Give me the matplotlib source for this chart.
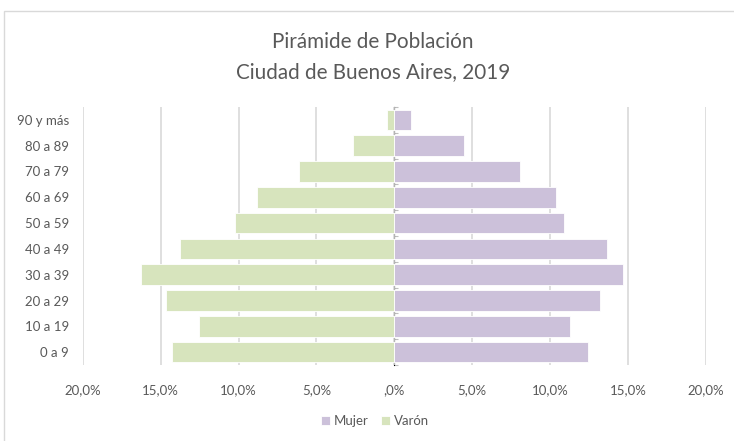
import matplotlib
matplotlib.use("Agg")
import matplotlib.pyplot as plt
from matplotlib.patches import Rectangle
from matplotlib.ticker import FuncFormatter
import numpy as np

plt.rcParams["font.family"] = ["Lato", "DejaVu Sans"]

# Age groups, bottom to top
age_groups = ["0 a 9", "10 a 19", "20 a 29", "30 a 39", "40 a 49",
              "50 a 59", "60 a 69", "70 a 79", "80 a 89", "90 y más"]
# share of total population (%)
varon = [14.27, 12.52, 14.67, 16.28, 13.77, 10.24, 8.79, 6.12, 2.65, 0.49]
mujer = [12.41, 11.26, 13.22, 14.68, 13.63, 10.91, 10.36, 8.05, 4.45, 1.05]
x_ticks = [-20, -15, -10, -5, 0, 5, 10, 15, 20]

GREEN = "#D7E4BD"
PURPLE = "#CCC1DA"
GRID = "#D9D9D9"
TEXT = "#595959"

fig = plt.figure(figsize=(7.34, 4.41), dpi=100)
fig.patches.append(Rectangle((4 / 734, -0.1), 1.0, 1 - 11 / 441 + 0.1,
                             transform=fig.transFigure, fill=False,
                             edgecolor=GRID, lw=1.0))

ax = fig.add_axes([0.1127, 0.1723, 0.8492, 0.5851])
y = np.arange(len(age_groups))
ax.barh(y, mujer, height=0.8, color=PURPLE, edgecolor="white", lw=0.6,
        label="Mujer", zorder=2)
ax.barh(y, [-v for v in varon], height=0.8, color=GREEN, edgecolor="white",
        lw=0.6, label="Varón", zorder=2)

ax.set_xlim(-20, 20)
ax.set_ylim(-0.5, len(age_groups) - 0.5)
ax.set_xticks(x_ticks)


def pct(v, pos):
    if v == 0:
        return ",0%"
    return f"{abs(v):.1f}%".replace(".", ",")


ax.xaxis.set_major_formatter(FuncFormatter(pct))
ax.tick_params(axis="x", length=0, pad=14, labelsize=9.5, labelcolor=TEXT)
ax.set_yticks(y)
ax.set_yticklabels(age_groups)
ax.tick_params(axis="y", length=0, pad=10, labelsize=9.5, labelcolor=TEXT)
for s in ax.spines.values():
    s.set_visible(False)
ax.grid(axis="x", color=GRID, lw=1.2, zorder=0)
ax.set_axisbelow(True)

# central vertical axis with boundary ticks
center = ax.secondary_yaxis(0.5)
center.set_yticks(np.arange(-0.5, len(age_groups), 1.0))
center.set_yticklabels([])
center.tick_params(axis="y", direction="out", length=3, color="#BFBFBF")
center.spines["left"].set_color("#BFBFBF")

fig.text(0.508, 1 - 42 / 441, "Pirámide de Población", ha="center",
         va="center", fontsize=14.9, color=TEXT)
fig.text(0.508, 1 - 72 / 441, "Ciudad de Buenos Aires, 2019", ha="center",
         va="center", fontsize=14.9, color=TEXT)

fig.legend(loc="center", bbox_to_anchor=(0.511, 1 - 421 / 441), ncol=2,
           frameon=False, fontsize=9.5, handlelength=0.7, handleheight=0.7,
           handletextpad=0.3, columnspacing=0.9, labelcolor=TEXT)

fig.savefig("out.png", dpi=100)
